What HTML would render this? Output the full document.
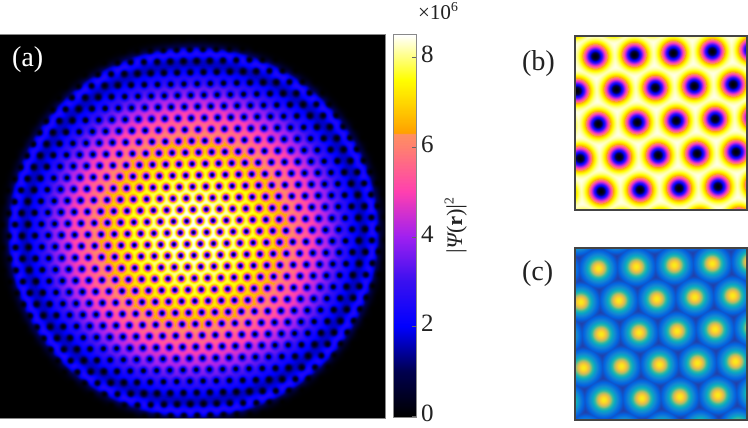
<!DOCTYPE html>
<html><head><meta charset="utf-8"><style>
body{margin:0;background:#fff;width:748px;height:425px;position:relative;overflow:hidden;font-family:"Liberation Serif",serif}
canvas{position:absolute}
.t{position:absolute;font-family:"Liberation Serif",serif;color:#222;white-space:nowrap}
</style></head><body>
<canvas id="ca" width="385" height="383" style="left:0;top:35px;outline:1px solid #888"></canvas>
<canvas id="cb" width="22" height="382" style="left:394px;top:35px;outline:1px solid #888"></canvas>
<canvas id="pb" width="170" height="172" style="left:576px;top:37px;border:2px solid #444;margin:-2px"></canvas>
<canvas id="pc" width="170" height="170" style="left:576px;top:249px;border:2px solid #444;margin:-2px"></canvas>
<div class="t" style="left:12px;top:42px;font-size:28px;color:#fff">(a)</div>
<div class="t" style="left:522px;top:46px;font-size:28px">(b)</div>
<div class="t" style="left:522px;top:256px;font-size:28px">(c)</div>
<div class="t" style="left:418px;top:0px;font-size:21px">×10<sup style="font-size:14px">6</sup></div>
<div id="ticks"></div>
<div class="t" style="left:400px;top:212px;font-size:22px;transform:rotate(-90deg);transform-origin:center;width:110px;text-align:center">|<i>Ψ</i>(<b>r</b>)|<sup style="font-size:14px">2</sup></div>
<script>
const cbTicks=[0,2,4,6,8];
const vmax=8.5;
const cmapVals=[0,1,2,3,4,5,6,6.3,6.31,7.5,8.5];
const cmapCols=["#000000","#000050","#0000ff","#3a10f0","#a020f0","#ff40b0","#ff8070","#ff9060","#ffa000","#ffff00","#ffffff"];
const parVals=[0,0.15,0.3,0.45,0.6,0.7,0.8,0.9,1];
const parCols=["#352a87","#0363e1","#1485d4","#06a7c6","#38b99e","#92bf73","#d9ba56","#fcce2e","#f9fb0e"];
function hex(h){return[parseInt(h.substr(1,2),16),parseInt(h.substr(3,2),16),parseInt(h.substr(5,2),16)]}
function interp(vals,cols,v){const c=cols.map(hex);if(v<=vals[0])return c[0];for(let i=1;i<vals.length;i++){if(v<=vals[i]){const t=(v-vals[i-1])/(vals[i]-vals[i-1]);return c[i-1].map((a,k)=>a+(c[i][k]-a)*t)}}return c[c.length-1]}
function nearest(x,y,ox,oy,a,th){const c=Math.cos(th),s=Math.sin(th);let dx=x-ox,dy=y-oy;let u=dx*c+dy*s,w=-dx*s+dy*c;const j=w/(a*0.8660254),i=u/a-j*0.5;let best=1e9;for(let di=-1;di<=2;di++)for(let dj=-1;dj<=2;dj++){const I=Math.floor(i)+di,J=Math.floor(j)+dj;const px=(I+J*0.5)*a,py=J*a*0.8660254;const d=(u-px)**2+(w-py)**2;if(d<best)best=d}return Math.sqrt(best)}
function draw(id,fn,vals,cols){const cv=document.getElementById(id),ctx=cv.getContext('2d'),W=cv.width,H=cv.height,im=ctx.createImageData(W,H);for(let y=0;y<H;y++)for(let x=0;x<W;x++){const c=interp(vals,cols,fn(x,y)),k=(y*W+x)*4;im.data[k]=c[0];im.data[k+1]=c[1];im.data[k+2]=c[2];im.data[k+3]=255}ctx.putImageData(im,0,0)}
// panel a
const R=186,cx=193,cy=197;
draw('ca',(x,y)=>{const r=Math.sqrt((x-cx)**2+(y-cy)**2)/R;let n=8.7*(1-r*r);if(n<0)n=0;
 n+=2.0*Math.exp(-Math.pow((r-0.97)/0.04,2))*(r>0.9?1:0.0);
 const d=nearest(x,y,cx,cy,13.2,-0.02);return n*(1-Math.exp(-d*d/11))},cmapVals,cmapCols);
// panel b
draw('pb',(x,y)=>{const d=nearest(x,y,19,19,39,-0.042);return vmax*(1-Math.exp(-d*d/110))},cmapVals,cmapCols);
// panel c
draw('pc',(x,y)=>{const d=nearest(x,y,22,19,38,-0.042);return Math.exp(-Math.pow(d/(0.34*38),2))*0.97},parVals,parCols);
// colorbar
draw('cb',(x,y)=>vmax*(1-y/381),cmapVals,cmapCols);
const tk=document.getElementById('ticks');
cbTicks.forEach(v=>{const y=35+381*(1-v/vmax);const d=document.createElement('div');d.className='t';


d.style.left='421px';d.style.top=(y-16)+'px';d.style.fontSize='25px';d.textContent=v;tk.appendChild(d);
const m=document.createElement('div');m.style.cssText='position:absolute;left:412px;width:4px;height:1px;background:#666;top:'+y+'px';


tk.appendChild(m)});
</script>
</body></html>
